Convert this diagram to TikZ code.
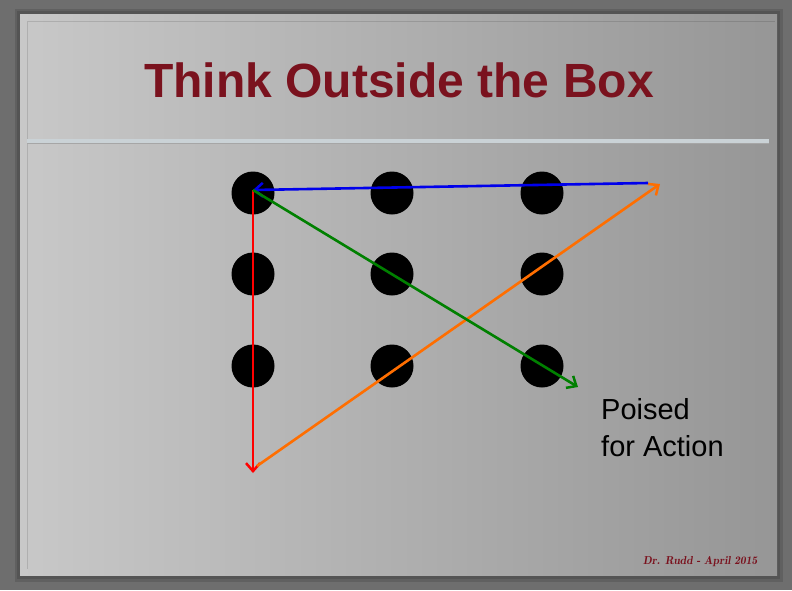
\documentclass[tikz,border=0pt]{standalone}
\usepackage{fontspec}
\setmainfont{Liberation Sans}
\usepackage{tikz}
\usetikzlibrary{arrows.meta}
\usetikzlibrary{positioning}
\definecolor{outerbg}{RGB}{110,110,110}
\definecolor{slidel}{RGB}{200,200,200}
\definecolor{slider}{RGB}{150,150,150}
\definecolor{titlered}{RGB}{122,18,30}
\definecolor{rulecol}{RGB}{202,210,214}
\definecolor{linered}{RGB}{255,0,0}
\definecolor{lineblue}{RGB}{0,0,235}
\definecolor{lineorange}{RGB}{255,110,0}
\definecolor{linegreen}{RGB}{0,128,0}

\begin{document}
\begin{tikzpicture}[x=1pt,y=-1pt,
    dot/.style={circle,fill=black,minimum size=43pt,inner sep=0pt},
    move/.style={-{Straight Barb[length=8pt,width=14pt,line width=2.5pt]},line width=2.6pt}]
    \useasboundingbox (0,0) rectangle (792,590);
    % background and slide
    \fill[outerbg] (0,0) rectangle (792,590);
    \fill[black,opacity=0.12] (15,9) rectangle (783,582);
    \fill[black,opacity=0.12] (17,11) rectangle (780,579);
    \shade[left color=slidel, right color=slider] (20,14) rectangle (777,575);
    \draw[black,opacity=0.12,line width=1pt] (27,569) -- (27,21) -- (775,21);
    \draw[black!35,line width=5pt] (27,141) -- (769,141);
    \draw[rulecol,line width=3.5pt] (27,141) -- (769,141);
    % title
    \node[anchor=base,text=titlered,font=\fontsize{48}{56}\selectfont\bfseries] (title) at (399,97) {Think Outside the Box};
    % dots
    \node[dot] (D11) at (253,193) {};
    \node[dot] (D12) at (392,193) {};
    \node[dot] (D13) at (542,193) {};
    \node[dot] (D21) at (253,274) {};
    \node[dot] (D22) at (392,274) {};
    \node[dot] (D23) at (542,274) {};
    \node[dot] (D31) at (253,366) {};
    \node[dot] (D32) at (392,366) {};
    \node[dot] (D33) at (542,366) {};
    % corners of the path
    \coordinate (S) at (253,190);
    \coordinate (B) at (253,473);
    \coordinate (B2) at (257,466);
    \coordinate (R) at (660,184);
    \coordinate (R2) at (648,183);
    \coordinate (E) at (578,387);
    \path [move, color = linered] (S) edge (B);
    \path [move, color = lineorange] (B2) edge (R);
    \path [move, color = lineblue] (R2) edge (S);
    \path [move, color = linegreen] (S) edge (E);
    % labels
    \node[anchor=north west,align=left,inner sep=0pt,font=\fontsize{29}{37}\selectfont] (poised) at (601,398) {Poised\\for Action};
    \node[anchor=base east,text=titlered,font=\fontfamily{lmr}\fontsize{11.5}{13}\selectfont\itshape\bfseries] (credit) at (761,564) {Dr. Rudd - April 2015};
  \end{tikzpicture}
\end{document}
